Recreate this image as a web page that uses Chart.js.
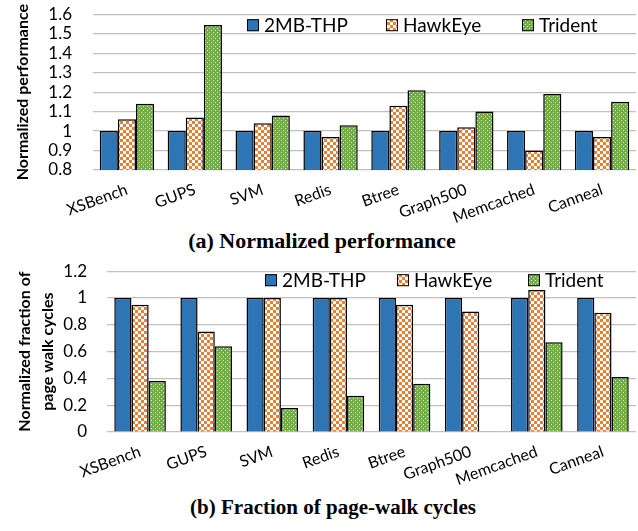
<!DOCTYPE html>
<html>
<head>
<meta charset="utf-8">
<script src="https://cdn.jsdelivr.net/npm/chart.js@4.4.1/dist/chart.umd.min.js"></script>
<style>
  html, body { margin: 0; padding: 0; background: #fff; }
  #wrap { position: relative; width: 638px; height: 531px; overflow: hidden; }
  .box { position: absolute; left: 0; width: 638px; }
  .cap { position: absolute; width: 638px; text-align: center;
         font-family: "Liberation Serif", "DejaVu Serif", serif; font-weight: bold;
         font-size: 21px; color: #000; line-height: 24px; }
</style>
</head>
<body>
<div id="wrap">
  <div class="cap" style="top:229px;left:3px;font-size:22px">(a) Normalized performance</div>
  <div class="cap" style="top:495px;left:14px">(b) Fraction of page-walk cycles</div>
  <div class="box" style="top:-17px;height:242px"><canvas id="perf"></canvas></div>
  <div class="box" style="top:241px;height:249px"><canvas id="walk"></canvas></div>
</div>
<script>
// Workloads and configurations
const categories = ['XSBench', 'GUPS', 'SVM', 'Redis', 'Btree', 'Graph500', 'Memcached', 'Canneal'];
const seriesNames = ['2MB-THP', 'HawkEye', 'Trident'];

// (a) performance normalized to 2MB-THP
const perfTHP     = [1, 1, 1, 1, 1, 1, 1, 1];
const perfHawkEye = [1.06, 1.07, 1.04, 0.97, 1.13, 1.02, 0.90, 0.97];
const perfTrident = [1.14, 1.545, 1.08, 1.03, 1.21, 1.10, 1.19, 1.15];
const perfTicks   = [0.8, 0.9, 1.0, 1.1, 1.2, 1.3, 1.4, 1.5, 1.6];

// (b) fraction of page-walk cycles normalized to 2MB-THP
const walkTHP     = [1, 1, 1, 1, 1, 1, 1, 1];
const walkHawkEye = [0.95, 0.75, 1.0, 1.0, 0.95, 0.90, 1.06, 0.89];
const walkTrident = [0.38, 0.64, 0.18, 0.27, 0.36, 0.005, 0.67, 0.41];
const walkTicks   = [0, 0.2, 0.4, 0.6, 0.8, 1.0, 1.2];

// Fill patterns
function checkerPattern(color) {
  const c = document.createElement('canvas');
  c.width = 6; c.height = 6;
  const g = c.getContext('2d');
  g.fillStyle = '#fff'; g.fillRect(0, 0, 6, 6);
  g.fillStyle = color;
  g.fillRect(0, 0, 3, 3);
  g.fillRect(3, 3, 3, 3);
  return g.createPattern(c, 'repeat');
}
function dotPattern(color) {
  const c = document.createElement('canvas');
  c.width = 4; c.height = 4;
  const g = c.getContext('2d');
  g.fillStyle = color; g.fillRect(0, 0, 4, 4);
  g.fillStyle = '#e6f2dc';
  g.fillRect(1, 1, 1, 1);
  g.fillRect(3, 3, 1, 1);
  return g.createPattern(c, 'repeat');
}
const fills = ['#2E75B6', checkerPattern('#ED7D31'), dotPattern('#70AD47')];

// Legend drawn inside the plot area
const insideLegend = {
  id: 'insideLegend',
  afterDraw(chart, args, opts) {
    const { ctx, chartArea } = chart;
    ctx.save();
    ctx.font = opts.font;
    ctx.textBaseline = 'middle';
    ctx.textAlign = 'left';
    const y = chartArea.top + opts.dy;
    chart.data.datasets.forEach((ds, i) => {
      const x = opts.x[i];
      ctx.fillStyle = ds.backgroundColor;
      ctx.fillRect(x, y - 6, 12, 12);
      ctx.lineWidth = 1;
      ctx.strokeStyle = '#000';
      ctx.strokeRect(x + 0.5, y - 5.5, 11, 11);
      ctx.fillStyle = '#000';
      ctx.fillText(ds.label, x + 17, y + 1);
    });
    ctx.restore();
  }
};

function makeChart(id, values, ticks, title, geom) {
  return new Chart(document.getElementById(id), {
    type: 'bar',
    data: {
      labels: categories,
      datasets: values.map((v, i) => ({
        label: seriesNames[i],
        data: v,
        backgroundColor: fills[i],
        borderColor: '#000',
        borderWidth: 1.5,
        barPercentage: 1.0,
        categoryPercentage: geom.cat
      }))
    },
    options: {
      responsive: true,
      maintainAspectRatio: false,
      animation: false,
      layout: { padding: { top: 0, right: 2, left: 0, bottom: 0 } },
      plugins: {
        legend: { display: false },
        tooltip: { enabled: false },
        insideLegend: { x: geom.legendX, dy: geom.legendDy, font: '19px Lato' }
      },
      scales: {
        x: {
          grid: { display: false },
          border: { display: false },
          ticks: {
            color: '#000',
            font: { family: 'Lato', size: 16 },
            maxRotation: 20, minRotation: 20,
            autoSkip: false,
            padding: 2
          },
          afterFit: s => { s.height = geom.xh; }
        },
        y: {
          min: ticks[0],
          max: ticks[ticks.length - 1],
          afterBuildTicks: s => { s.ticks = ticks.map(v => ({ value: v })); },
          grid: { color: '#c0c0c0', lineWidth: 1.2, drawTicks: false },
          border: { display: false },
          ticks: {
            color: '#000',
            font: { family: 'Lato', size: 17 },
            padding: geom.tickPad,
            autoSkip: false,
            callback: v => String(Math.round(v * 10) / 10)
          },
          title: {
            display: true,
            text: title,
            color: '#000',
            font: { family: 'Lato', size: 16, weight: 'bold', lineHeight: geom.titleLH },
            padding: { top: geom.titlePad, bottom: 0 }
          },
          afterFit: s => { s.width = geom.yw; }
        }
      }
    },
    plugins: [insideLegend]
  });
}

makeChart('perf', [perfTHP, perfHawkEye, perfTrident], perfTicks,
  'Normalized performance',
  { cat: 0.8, xh: 55, yw: 93, tickPad: 21, titlePad: 13, titleLH: 1.2,
    legendX: [247, 386, 522], legendDy: 11 });

makeChart('walk', [walkTHP, walkHawkEye, walkTrident], walkTicks,
  ['Normalized fraction of', 'page walk cycles'],
  { cat: 0.78, xh: 58, yw: 107, tickPad: 20, titlePad: 13, titleLH: 1.45,
    legendX: [265, 397, 528], legendDy: 9 });
</script>
</body>
</html>
